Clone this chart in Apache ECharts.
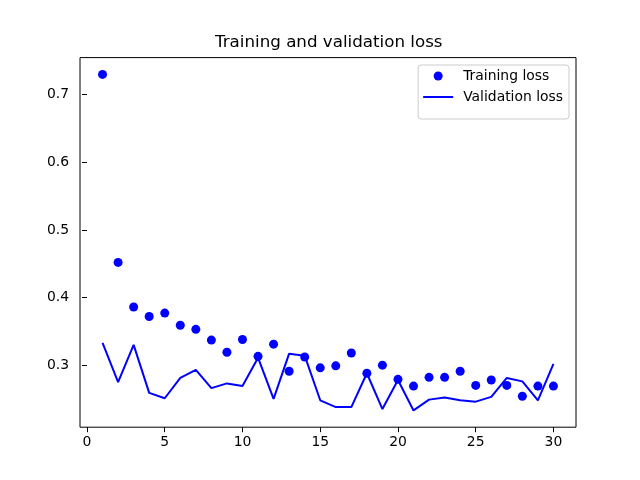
<!DOCTYPE html>
<html>
<head>
<meta charset="utf-8">
<script src="https://cdn.jsdelivr.net/npm/echarts@6/dist/echarts.min.js"></script>
<style>
html,body{margin:0;padding:0;background:#fff;}
#chart{width:640px;height:480px;}
</style>
</head>
<body>
<div id="chart"></div>
<script>
var epochs = [1,2,3,4,5,6,7,8,9,10,11,12,13,14,15,16,17,18,19,20,21,22,23,24,25,26,27,28,29,30];
var trainingLoss = [0.730,0.452,0.386,0.372,0.377,0.359,0.353,0.337,0.319,0.338,0.313,0.331,0.291,0.312,0.296,0.299,0.318,0.288,0.300,0.279,0.269,0.282,0.282,0.291,0.270,0.278,0.270,0.254,0.269,0.269];
var validationLoss = [0.333,0.275,0.330,0.259,0.251,0.281,0.293,0.266,0.273,0.269,0.311,0.250,0.317,0.314,0.248,0.238,0.238,0.288,0.235,0.278,0.233,0.249,0.252,0.248,0.246,0.253,0.281,0.276,0.248,0.302];
var xTicks = [0,5,10,15,20,25,30];
var yTicks = [0.3,0.4,0.5,0.6,0.7];
var seriesNames = ['Training loss','Validation loss'];
var titleText = 'Training and validation loss';

var FONT = 'DejaVu Sans';
var chart = echarts.init(document.getElementById('chart'), null, {renderer:'canvas'});
chart.setOption({
  animation: false,
  backgroundColor: '#ffffff',
  title: {
    text: titleText,
    left: 215,
    top: 33,
    padding: 0,
    textStyle: {fontFamily: FONT, fontSize: 16.7, fontWeight: 'normal', color: '#000', lineHeight: 20}
  },
  legend: {
    orient: 'vertical',
    right: 71,
    top: 65,
    padding: [4, 6, 15, 5],
    itemGap: 7,
    itemWidth: 30,
    itemHeight: 9,
    backgroundColor: 'rgba(255,255,255,0.8)',
    borderColor: '#cccccc',
    borderWidth: 1,
    borderRadius: 3,
    textStyle: {fontFamily: FONT, fontSize: 13.9, color: '#000', lineHeight: 14, padding: [0,0,0,5]},
    data: [
      {name: seriesNames[0], icon: 'circle'},
      {name: seriesNames[1], icon: 'path://M0,0L15,0L15,1L0,1Z'}
    ]
  },
  grid: {
    left: 80, right: 64, top: 57.6, bottom: 52.8,
    show: true, borderColor: '#000', borderWidth: 1, backgroundColor: 'transparent'
  },
  xAxis: {
    type: 'value',
    min: -0.45, max: 31.45,
    axisLine: {show: false},
    splitLine: {show: false},
    axisTick: {show: true, length: 5, lineStyle: {color: '#000', width: 1}, customValues: xTicks},
    axisLabel: {show: true, margin: 8, color: '#000', fontFamily: FONT, fontSize: 13.9, customValues: xTicks,
      formatter: function(v){ return String(Math.round(v)); }}
  },
  yAxis: {
    type: 'value',
    min: 0.2082, max: 0.7549,
    axisLine: {show: false},
    splitLine: {show: false},
    axisTick: {show: true, length: 5, lineStyle: {color: '#000', width: 1}, customValues: yTicks},
    axisLabel: {show: true, margin: 11, color: '#000', fontFamily: FONT, fontSize: 13.9, customValues: yTicks,
      formatter: function(v){ return v.toFixed(1); }}
  },
  series: [
    {
      name: seriesNames[0],
      type: 'scatter',
      symbol: 'circle',
      symbolSize: 9,
      itemStyle: {color: '#0000ff', opacity: 1},
      data: epochs.map(function(e, i){ return [e, trainingLoss[i]]; })
    },
    {
      name: seriesNames[1],
      type: 'line',
      showSymbol: false,
      symbol: 'none',
      itemStyle: {color: '#0000ff'},
      lineStyle: {color: '#0000ff', width: 2},
      data: epochs.map(function(e, i){ return [e, validationLoss[i]]; })
    }
  ]
});
</script>
</body>
</html>
